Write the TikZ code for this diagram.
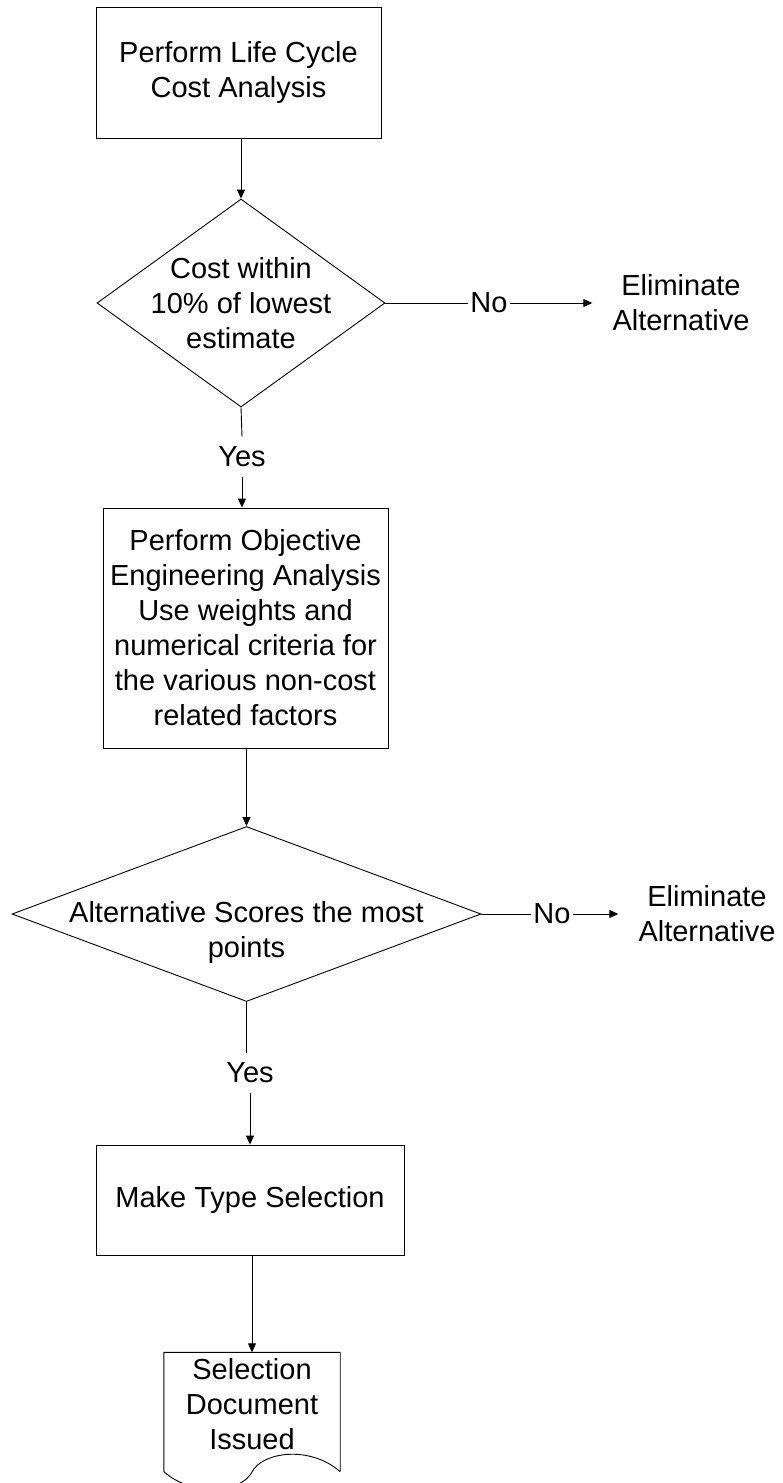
\documentclass[tikz,border=0pt]{standalone}
\usepackage{fontspec}
\setmainfont{Liberation Sans}
\usetikzlibrary{shapes.geometric,arrows.meta}
\begin{document}
\begin{tikzpicture}[x=1pt,y=-1pt,
  every node/.style={font=\fontsize{29}{35}\selectfont, align=center},
  procbox/.style={draw, rectangle, line width=0.9pt, inner sep=0pt},
  decis/.style={draw, diamond, line width=0.9pt, inner sep=0pt},
  lbl/.style={inner sep=2pt},
  yesl/.style={inner xsep=2pt, inner ysep=10pt},
  conn/.style={line width=0.9pt},
  arr/.style={conn, -{Triangle[length=9pt,width=8pt]}}
]
\useasboundingbox (0,0) rectangle (783,1483);

% boxes and decisions
\node[procbox, minimum width=285pt, minimum height=131pt] (b1) at (238.5,72.5) {Perform Life Cycle\\Cost Analysis};
\node[decis, minimum width=288pt, minimum height=208pt] (d1) at (241,303) {};
\node (d1t) at (d1.center) {Cost within\\10\% of lowest\\estimate};
\node[lbl] (no1) at (489,303) {No};
\node[lbl] (e1) at (681,303) {Eliminate\\Alternative};
\node[yesl] (y1) at (242,457) {Yes};
\node[procbox, minimum width=285pt, minimum height=240pt] (b2) at (245.5,628) {Perform Objective\\Engineering Analysis\\Use weights and\\numerical criteria for\\the various non-cost\\related factors};
\node[decis, minimum width=469pt, minimum height=175pt] (d2) at (246.5,914) {};
\node (d2t) at (246.5,932) {Alternative Scores the most\\points};
\node[lbl] (no2) at (552,914) {No};
\node[lbl] (e2) at (707,914) {Eliminate\\Alternative};
\node[yesl] (y2) at (250,1073) {Yes};
\node[procbox, minimum width=308pt, minimum height=110pt] (b3) at (250,1200) {Make Type Selection};
\node[inner sep=0pt, minimum width=176pt, minimum height=119pt] (doc) at (252,1412) {};
\node (doct) at (252,1404) {Selection\\Document\\Issued};
\draw[line width=0.9pt] (doc.south east) -- (doc.north east) -- (doc.north west) -- (doc.south west)
  .. controls (194,1498) and (242,1492) .. (252,1472)
  .. controls (262,1452) and (310,1445) .. (doc.south east);

% connectors
\draw[arr] (b1.south -| d1.north) -- (d1.north);
\draw[conn] (d1.east) -- (no1.west);
\draw[arr, shorten >=18pt] (no1.east) -- (e1.west);
\draw[conn] (d1.south) -- (y1.north);
\draw[arr] (y1.south) -- (y1.south |- b2.north);
\draw[arr] (b2.south -| d2.north) -- (d2.north);
\draw[conn] (d2.east) -- (no2.west);
\draw[arr, shorten >=18pt] (no2.east) -- (e2.west);
\draw[conn] (d2.south) -- (d2.south |- y2.north);
\draw[arr] (y2.south) -- (y2.south |- b3.north);
\draw[arr] (b3.south -| doc.north) -- (doc.north);
\end{tikzpicture}
\end{document}
